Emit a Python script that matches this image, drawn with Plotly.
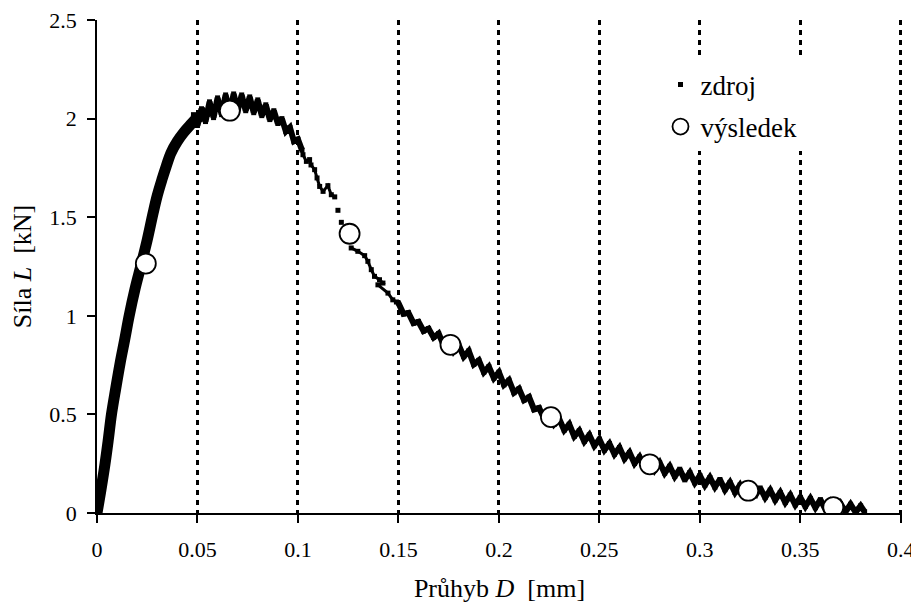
import plotly.graph_objects as go

# ---------------- data ----------------
# source record "zdroj" (deflection D [mm], force L [kN]), in path order
rise_D = [0.0, 0.0020, 0.0040, 0.0056, 0.0072, 0.0093, 0.0115, 0.0138, 0.0160,
          0.0190, 0.0220, 0.0250, 0.0279, 0.0300, 0.0323, 0.0345, 0.0368,
          0.0400, 0.0432, 0.0462, 0.0490, 0.0520, 0.0550]
rise_L = [0.0, 0.12, 0.25, 0.37, 0.50, 0.63, 0.76, 0.88, 1.00,
          1.14, 1.26, 1.385, 1.52, 1.61, 1.69, 1.76, 1.826,
          1.885, 1.93, 1.965, 1.995, 2.015, 2.035]

peak_D = [0.048, 0.050, 0.052, 0.054, 0.056, 0.058, 0.060, 0.062, 0.064, 0.066, 0.068,
          0.070, 0.072, 0.074, 0.076, 0.078, 0.080, 0.082, 0.084, 0.086, 0.088,
          0.090, 0.092, 0.094, 0.096, 0.098, 0.100, 0.102]
peak_L = [2.020, 1.965, 2.050, 1.985, 2.085, 2.005, 2.105, 2.020, 2.120, 2.030, 2.125,
          2.040, 2.120, 2.040, 2.110, 2.030, 2.095, 2.015, 2.070, 1.995, 2.040,
          1.975, 2.000, 1.935, 1.955, 1.885, 1.895, 1.840]

drop_D = [0.1025, 0.1042, 0.1058, 0.1065, 0.1083, 0.1095, 0.1108, 0.1125, 0.1149,
          0.1166, 0.1183, 0.1199, 0.1216, 0.1265, 0.1298, 0.1332, 0.1348, 0.1365,
          0.1381, 0.1406, 0.1423, 0.1398, 0.1448, 0.1472, 0.1490]
drop_L = [1.817, 1.783, 1.792, 1.765, 1.741, 1.699, 1.656, 1.631, 1.660,
          1.614, 1.603, 1.535, 1.474, 1.344, 1.327, 1.305, 1.276, 1.234,
          1.200, 1.183, 1.166, 1.157, 1.115, 1.081, 1.070]

tail_D = [0.1500, 0.1525, 0.1550, 0.1575, 0.1600, 0.1625, 0.1650, 0.1675, 0.1700, 0.1725,
          0.1750, 0.1775, 0.1800, 0.1825, 0.1850, 0.1875, 0.1900, 0.1925, 0.1950, 0.1975,
          0.2000, 0.2025, 0.2050, 0.2075, 0.2100, 0.2125, 0.2150, 0.2175, 0.2200, 0.2225,
          0.2250, 0.2275, 0.2300, 0.2325, 0.2350, 0.2375, 0.2400, 0.2425, 0.2450, 0.2475,
          0.2500, 0.2525, 0.2550, 0.2575, 0.2600, 0.2625, 0.2650, 0.2675, 0.2700, 0.2725,
          0.2750, 0.2775, 0.2800, 0.2825, 0.2850, 0.2875, 0.2900, 0.2925, 0.2950, 0.2975,
          0.3000, 0.3025, 0.3050, 0.3075, 0.3100, 0.3125, 0.3150, 0.3175, 0.3200, 0.3225,
          0.3250, 0.3275, 0.3300, 0.3325, 0.3350, 0.3375, 0.3400, 0.3425, 0.3450, 0.3475,
          0.3500, 0.3525, 0.3550, 0.3575, 0.3600, 0.3625, 0.3650, 0.3675, 0.3700, 0.3725,
          0.3750, 0.3775, 0.3800, 0.3820]
tail_L = [1.065, 1.010, 1.015, 0.963, 0.970, 0.923, 0.935, 0.890, 0.910, 0.852,
          0.877, 0.820, 0.852, 0.793, 0.822, 0.754, 0.774, 0.714, 0.742, 0.684,
          0.714, 0.650, 0.674, 0.610, 0.630, 0.572, 0.588, 0.525, 0.533, 0.480,
          0.508, 0.450, 0.477, 0.420, 0.450, 0.388, 0.417, 0.363, 0.396, 0.341,
          0.374, 0.319, 0.352, 0.298, 0.332, 0.275, 0.307, 0.251, 0.284, 0.232,
          0.269, 0.218, 0.255, 0.202, 0.237, 0.185, 0.222, 0.168, 0.205, 0.153,
          0.190, 0.141, 0.180, 0.131, 0.170, 0.118, 0.155, 0.104, 0.142, 0.094,
          0.134, 0.086, 0.127, 0.078, 0.116, 0.066, 0.104, 0.053, 0.091, 0.041,
          0.079, 0.033, 0.074, 0.027, 0.068, 0.018, 0.056, 0.010, 0.048, 0.006,
          0.044, 0.004, 0.036, 0.006]

zdroj_D = rise_D + peak_D + drop_D + tail_D
zdroj_L = rise_L + peak_L + drop_L + tail_L

# result points "výsledek"
vysledek_D = [0.0243, 0.0661, 0.1257, 0.1759, 0.2259, 0.2751, 0.3241, 0.3664]
vysledek_L = [1.265, 2.040, 1.416, 0.853, 0.486, 0.247, 0.113, 0.030]

x_ticks = [0, 0.05, 0.1, 0.15, 0.2, 0.25, 0.3, 0.35, 0.4]
x_labels = ["0", "0.05", "0.1", "0.15", "0.2", "0.25", "0.3", "0.35", "0.4"]
y_ticks = [0, 0.5, 1, 1.5, 2, 2.5]
y_labels = ["0", "0.5", "1", "1.5", "2", "2.5"]

FONT = "Liberation Serif"
BLACK = "#000000"

fig = go.Figure()

# dense band of the raw record (drawn as connected strokes, no legend)
def band(xs, ys, w, shape="linear"):
    fig.add_trace(go.Scatter(x=xs, y=ys, mode="lines", showlegend=False,
                             hoverinfo="skip", legendgroup="z",
                             line=dict(color=BLACK, width=w, shape=shape)))

band(rise_D, rise_L, 11, "spline")
band(peak_D, peak_L, 6)
band(peak_D[-1:] + drop_D[:11], peak_L[-1:] + drop_L[:11], 3)
band(drop_D[13:] + tail_D[:1], drop_L[13:] + tail_L[:1], 3)
band(tail_D, tail_L, 6)

fig.add_trace(go.Scatter(
    x=zdroj_D, y=zdroj_L, mode="markers", name="zdroj", legendgroup="z",
    marker=dict(symbol="square", size=5, color=BLACK, line=dict(width=0)),
))

fig.add_trace(go.Scatter(
    x=vysledek_D, y=vysledek_L, mode="markers", name="výsledek", legendgroup="v",
    marker=dict(symbol="circle", size=20, color="white",
                line=dict(color=BLACK, width=1.8)),
))

# the page body has an 8 px default margin, so the figure is 8 px smaller
fig.update_layout(
    width=911, height=598,
    margin=dict(l=89, r=17, t=12, b=93, autoexpand=False),
    paper_bgcolor="white", plot_bgcolor="white",
    font=dict(family=FONT, size=22, color=BLACK),
    showlegend=True,
    legend=dict(x=0.700, y=0.918, xanchor="left", yanchor="top",
                bgcolor="white", borderwidth=0,
                font=dict(family=FONT, size=27, color=BLACK),
                traceorder="grouped", tracegroupgap=4),
    xaxis=dict(range=[0, 0.4006], tickmode="array", tickvals=x_ticks, ticktext=x_labels,
               automargin=False, ticklabelstandoff=8, ticklabeloverflow="allow",
               showline=True, linecolor=BLACK, linewidth=1.5,
               ticks="outside", ticklen=8, tickwidth=1.5, tickcolor=BLACK,
               showgrid=True, gridcolor=BLACK, gridwidth=2.5, griddash="5px,5px",
               zeroline=False, tickfont=dict(family=FONT, size=22, color=BLACK),
               title=dict(text="Průhyb <i>D</i>\u00a0 [mm]", standoff=18,
                          font=dict(family=FONT, size=26, color=BLACK))),
    yaxis=dict(range=[0, 2.5], tickmode="array", tickvals=y_ticks, ticktext=y_labels,
               automargin=False, ticklabelstandoff=6, ticklabeloverflow="allow",
               showline=True, linecolor=BLACK, linewidth=1.5,
               ticks="outside", ticklen=8, tickwidth=1.5, tickcolor=BLACK,
               showgrid=False, zeroline=False,
               tickfont=dict(family=FONT, size=22, color=BLACK),
               title=dict(text="Síla <i>L</i>\u00a0 [kN]", standoff=12,
                          font=dict(family=FONT, size=26, color=BLACK))),
)

fig.write_html("out.html")
